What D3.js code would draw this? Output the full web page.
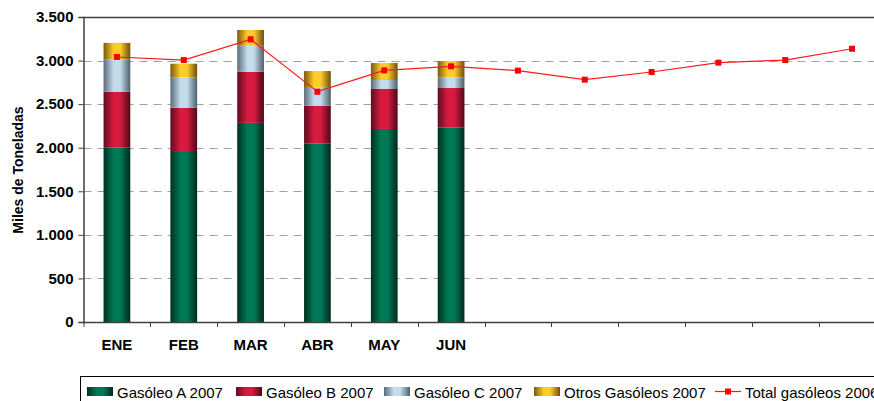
<!DOCTYPE html>
<html>
<head>
<meta charset="utf-8">
<script src="https://cdn.jsdelivr.net/npm/d3@7"></script>
<style>
  html, body { margin: 0; padding: 0; background: #fff; }
  svg { display: block; font-family: "Liberation Sans", Arial, sans-serif; }
  svg text { font-family: "Liberation Sans", Arial, sans-serif; }
</style>
</head>
<body>
<svg id="chart" width="874" height="401"></svg>
<script>
// Monthly gas-oil consumption (thousand tonnes)
const months = ["ENE", "FEB", "MAR", "ABR", "MAY", "JUN", "JUL", "AGO", "SEP", "OCT", "NOV", "DIC"];
const barMonths = ["ENE", "FEB", "MAR", "ABR", "MAY", "JUN"];
const gasoleoA2007 = [2005, 1951, 2285, 2046, 2215, 2230];
const gasoleoB2007 = [638, 508, 587, 436, 459, 455];
const gasoleoC2007 = [372, 345, 299, 215, 103, 123];
const otros2007 = [188, 160, 180, 183, 195, 187];
const total2006 = [3041, 3006, 3244, 2643, 2888, 2934, 2885, 2781, 2869, 2976, 3006, 3136];
const yTicks = [0, 500, 1000, 1500, 2000, 2500, 3000, 3500];
const seriesNames = ["Gasóleo A 2007", "Gasóleo B 2007", "Gasóleo C 2007", "Otros Gasóleos 2007"];
const lineName = "Total gasóleos 2006";

const svg = d3.select("#chart");
const margin = { left: 83.5, top: 17, right: 885.5, bottom: 322 };

const x = d3.scaleBand().domain(months).range([margin.left, margin.right]).paddingInner(0.6).paddingOuter(0.3);
const xCat = d3.scaleBand().domain(months).range([margin.left, margin.right]);
const y = d3.scaleLinear().domain([0, 3500]).range([margin.bottom, margin.top]);

// Cylinder-like horizontal gradients for each series
const shades = [
  { id: "gA", edge: "#00301f", mid: "#007a56", right: "#002a1c" },
  { id: "gB", edge: "#5e0c20", mid: "#d81a40", right: "#500818" },
  { id: "gC", edge: "#5a6b78", mid: "#c4dcec", right: "#4e5e6a" },
  { id: "gO", edge: "#7a5a0c", mid: "#ffcc2c", right: "#6e5008" }
];
const defs = svg.append("defs");
shades.forEach(s => {
  const g = defs.append("linearGradient").attr("id", s.id).attr("x1", "0%").attr("x2", "100%").attr("y1", "0%").attr("y2", "0%");
  g.append("stop").attr("offset", "0%").attr("stop-color", s.edge);
  g.append("stop").attr("offset", "38%").attr("stop-color", s.mid);
  g.append("stop").attr("offset", "62%").attr("stop-color", s.mid);
  g.append("stop").attr("offset", "100%").attr("stop-color", s.right);
});

// Dashed gridlines
svg.append("g").selectAll("line")
  .data(yTicks.filter(t => t > 0 && t < 3500))
  .join("line")
  .attr("x1", margin.left).attr("x2", 874)
  .attr("y1", d => Math.round(y(d)) + 0.5).attr("y2", d => Math.round(y(d)) + 0.5)
  .attr("stroke", "#a0a0a0").attr("stroke-width", 1).attr("stroke-dasharray", "8,6");

// Top frame
svg.append("line")
  .attr("x1", margin.left).attr("x2", 874)
  .attr("y1", margin.top + 0.5).attr("y2", margin.top + 0.5)
  .attr("stroke", "#404040").attr("stroke-width", 1.5);

// Stacked bars
const stackData = barMonths.map((m, i) => ({
  month: m, a: gasoleoA2007[i], b: gasoleoB2007[i], c: gasoleoC2007[i], o: otros2007[i]
}));
const stack = d3.stack().keys(["a", "b", "c", "o"]);
const layers = stack(stackData);
svg.append("g").selectAll("g")
  .data(layers)
  .join("g")
  .attr("fill", (d, i) => `url(#${shades[i].id})`)
  .selectAll("rect")
  .data(d => d)
  .join("rect")
  .attr("x", d => x(d.data.month))
  .attr("width", x.bandwidth())
  .attr("y", d => y(d[1]))
  .attr("height", d => y(d[0]) - y(d[1]));

// Y axis
const yAxis = svg.append("g")
  .attr("transform", `translate(${margin.left},0)`)
  .call(d3.axisLeft(y).tickValues(yTicks).tickSize(5).tickPadding(5)
    .tickFormat(d => d3.format(",")(d).replace(/,/g, ".")));
yAxis.select(".domain").attr("stroke", "#404040").attr("stroke-width", 1.5);
yAxis.selectAll(".tick line").attr("stroke", "#404040");
yAxis.selectAll("text").attr("font-size", 15).attr("font-weight", "bold").attr("fill", "#000")
  .attr("font-family", "'Liberation Sans', Arial, sans-serif");

// X axis with ticks at category boundaries
const xAxisG = svg.append("g").attr("transform", `translate(0,${margin.bottom})`);
xAxisG.append("line").attr("x1", margin.left).attr("x2", 874).attr("y1", 0.5).attr("y2", 0.5)
  .attr("stroke", "#404040").attr("stroke-width", 1.5);
xAxisG.selectAll("line.tk")
  .data(months.slice(1))
  .join("line").attr("class", "tk")
  .attr("x1", d => Math.round(xCat(d)) + 0.5).attr("x2", d => Math.round(xCat(d)) + 0.5)
  .attr("y1", 0).attr("y2", 5)
  .attr("stroke", "#404040");
xAxisG.append("line").attr("x1", margin.left + 0.5).attr("x2", margin.left + 0.5).attr("y1", 0).attr("y2", 5).attr("stroke", "#404040");
xAxisG.selectAll("text")
  .data(barMonths)
  .join("text")
  .attr("x", d => xCat(d) + xCat.bandwidth() / 2)
  .attr("y", 28)
  .attr("text-anchor", "middle")
  .attr("font-size", 15).attr("font-weight", "bold")
  .text(d => d);

// Y axis title
svg.append("text")
  .attr("transform", `translate(23,170) rotate(-90)`)
  .attr("text-anchor", "middle")
  .attr("font-size", 14).attr("font-weight", "bold")
  .text("Miles de Toneladas");

// 2006 total line
const lineGen = d3.line().x((d, i) => xCat(months[i]) + xCat.bandwidth() / 2).y(d => y(d));
svg.append("path")
  .datum(total2006)
  .attr("d", lineGen)
  .attr("fill", "none").attr("stroke", "#ff1a1a").attr("stroke-width", 1.2);
svg.append("g").selectAll("rect")
  .data(total2006)
  .join("rect")
  .attr("x", (d, i) => xCat(months[i]) + xCat.bandwidth() / 2 - 3)
  .attr("y", d => y(d) - 3)
  .attr("width", 6).attr("height", 6)
  .attr("fill", "#ff0000");

// Legend
const legend = svg.append("g");
legend.append("rect").attr("x", 80.5).attr("y", 376.5).attr("width", 820).attr("height", 40)
  .attr("fill", "#fff").attr("stroke", "#000").attr("stroke-width", 1);
const legendX = [87, 236, 384, 534];
seriesNames.forEach((name, i) => {
  legend.append("rect").attr("x", legendX[i]).attr("y", 387).attr("width", 26).attr("height", 9)
    .attr("fill", `url(#${shades[i].id})`);
  legend.append("text").attr("x", legendX[i] + 30).attr("y", 397.5)
    .attr("font-size", 15).text(name);
});
legend.append("line").attr("x1", 715).attr("x2", 741).attr("y1", 391.5).attr("y2", 391.5)
  .attr("stroke", "#ff1a1a").attr("stroke-width", 1.2);
legend.append("rect").attr("x", 725).attr("y", 388.5).attr("width", 6).attr("height", 6).attr("fill", "#ff0000");
legend.append("text").attr("x", 745).attr("y", 397.5).attr("font-size", 15).text(lineName);
</script>
</body>
</html>
